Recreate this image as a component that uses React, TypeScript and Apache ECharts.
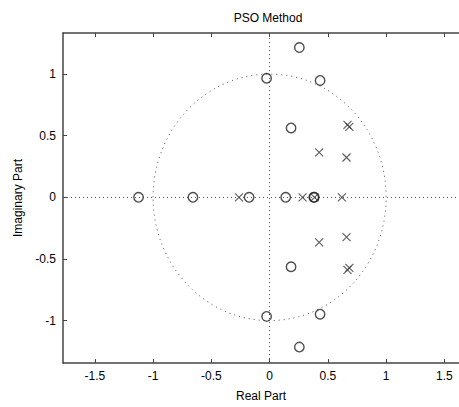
import React, { useEffect, useRef } from "react";
import * as echarts from "echarts";

const zerosRe = [-1.125, -0.658, -0.176, 0.138, 0.379, 0.383, 0.255, -0.026, 0.433, 0.184, 0.255, -0.026, 0.433, 0.184];
const zerosIm = [0, 0, 0, 0, 0, 0, 1.215, 0.966, 0.948, 0.563, -1.215, -0.966, -0.948, -0.563];
const polesRe = [-0.263, 0.283, 0.385, 0.62, 0.668, 0.684, 0.425, 0.66, 0.668, 0.684, 0.425, 0.66];
const polesIm = [0, 0, 0, 0, 0.588, 0.572, 0.365, 0.323, -0.588, -0.572, -0.365, -0.323];
const xTicks = [-1.5, -1, -0.5, 0, 0.5, 1, 1.5];
const yTicks = [-1, -0.5, 0, 0.5, 1];
const unitCircle = [[0, 0, 1]];

const FONT = "Liberation Sans";
const AX = "#444";

export default function App() {
  const ref = useRef<HTMLDivElement>(null);
  useEffect(() => {
    const chart = echarts.init(ref.current!, null, { renderer: "svg" });
    const zeros = zerosRe.map((r, i) => [r, zerosIm[i]]);
    const poles = polesRe.map((r, i) => [r, polesIm[i]]);
    const xBase = {
      type: "value",
      min: -1.773,
      max: 1.625,
      splitLine: { show: false },
      axisLine: { show: true, onZero: false, lineStyle: { color: AX, width: 1.5 } },
      axisTick: { show: true, inside: true, length: 4, customValues: xTicks, lineStyle: { color: AX } },
    };
    chart.setOption({
      animation: false,
      backgroundColor: "#fff",
      title: {
        text: "PSO Method",
        left: 263,
        top: 7,
        textAlign: "center",
        textStyle: { fontFamily: FONT, fontSize: 12, fontWeight: "normal", color: "#000" },
      },
      grid: { left: 63, right: -4, top: 33, bottom: 40 },
      xAxis: [
        {
          ...xBase,
          position: "bottom",
          name: "Real Part",
          nameLocation: "middle",
          nameGap: 27,
          nameTextStyle: { fontFamily: FONT, fontSize: 12, color: "#000" },
          axisLabel: { customValues: xTicks, margin: 7, fontFamily: FONT, fontSize: 12, color: "#000" },
        },
        {
          ...xBase,
          position: "top",
          axisLabel: { show: false },
        },
      ],
      yAxis: [
        {
          type: "value",
          min: -1.344,
          max: 1.333,
          splitLine: { show: false },
          name: "Imaginary Part",
          nameLocation: "middle",
          nameRotate: 90,
          nameGap: 39,
          nameTextStyle: { fontFamily: FONT, fontSize: 12, color: "#000" },
          axisLine: { show: true, onZero: false, lineStyle: { color: AX, width: 1.5 } },
          axisTick: { show: true, inside: true, length: 4, customValues: yTicks, lineStyle: { color: AX } },
          axisLabel: { customValues: yTicks, margin: 7, fontFamily: FONT, fontSize: 12, color: "#000" },
        },
      ],
      series: [
        {
          type: "custom",
          silent: true,
          data: unitCircle,
          renderItem: (params: any, api: any) => {
            const c = api.coord([api.value(0), api.value(1)]);
            const px = api.coord([api.value(2), 0]);
            const py = api.coord([0, api.value(2)]);
            return {
              type: "ellipse",
              shape: { cx: c[0], cy: c[1], rx: px[0] - c[0], ry: c[1] - py[1] },
              style: { fill: "none", stroke: "#555", lineWidth: 1, lineDash: [1, 4] },
            };
          },
          markLine: {
            silent: true,
            symbol: ["none", "none"],
            label: { show: false },
            lineStyle: { type: [1, 3], color: "#555", width: 1 },
            data: [{ xAxis: 0 }, { yAxis: 0 }],
          },
        },
        {
          type: "scatter",
          data: zeros,
          symbol: "circle",
          symbolSize: 9.5,
          itemStyle: { color: "rgba(0,0,0,0)", borderColor: "#222", borderWidth: 1.4 },
          z: 5,
        },
        {
          type: "scatter",
          data: poles,
          symbol: "path://M0,0L10,10M10,0L0,10",
          symbolSize: 8,
          itemStyle: { color: "rgba(0,0,0,0)", borderColor: "#333", borderWidth: 1.1 },
          z: 6,
        },
      ],
    });
    return () => chart.dispose();
  }, []);
  return <div ref={ref} style={{ width: 459, height: 407, position: "absolute", left: 0, top: 0 }} />;
}
